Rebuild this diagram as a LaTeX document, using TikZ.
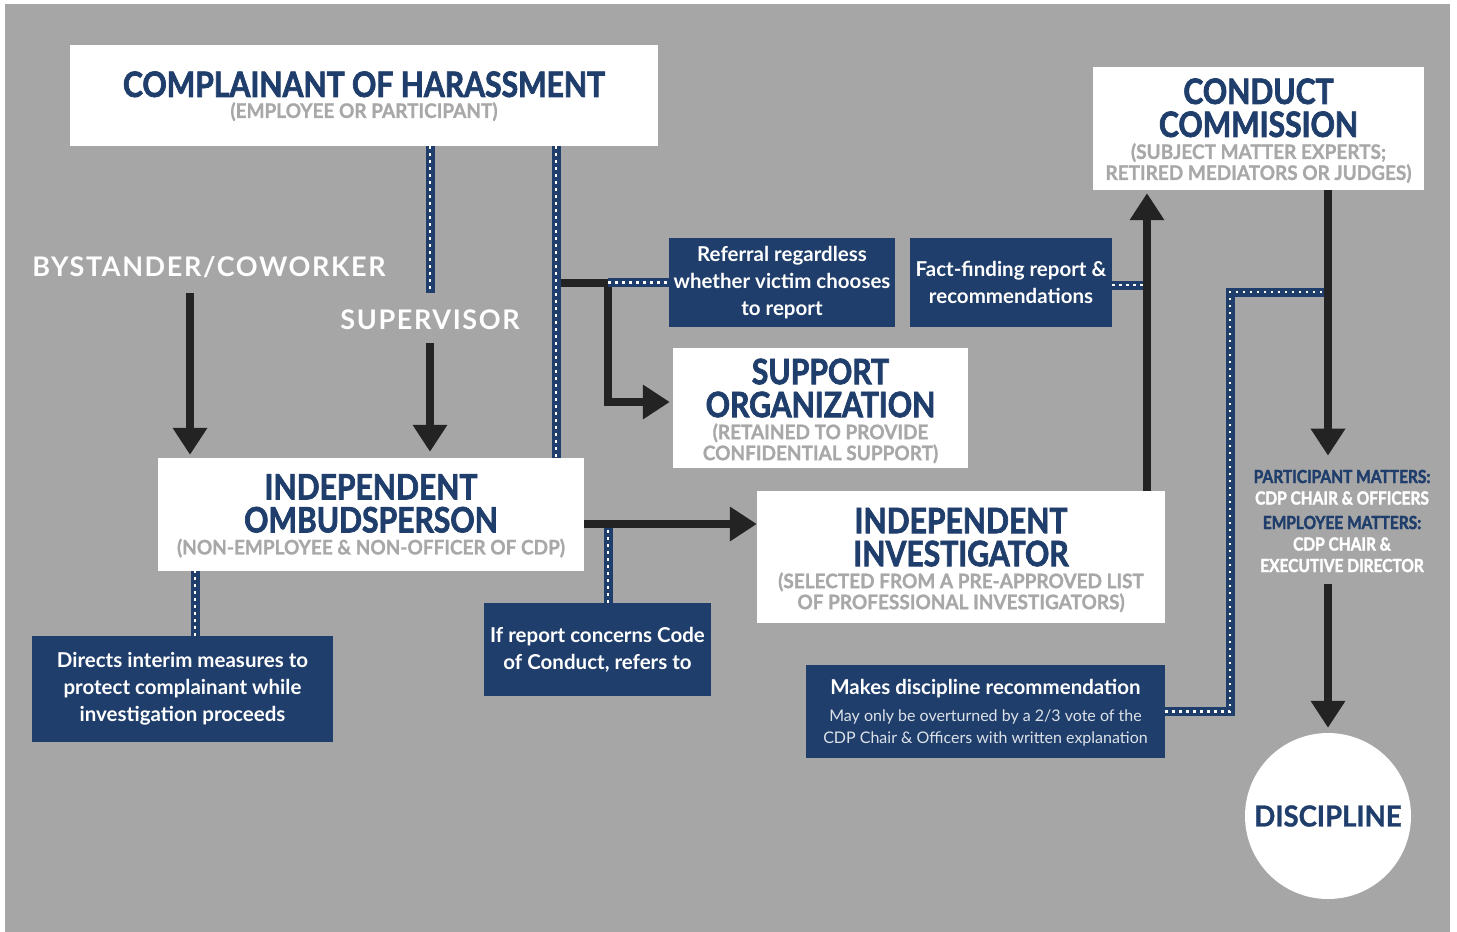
\documentclass[tikz,border=0pt]{standalone}
\usepackage{fontspec}
\setmainfont{Lato}
\newfontfamily\headfont{Lato}[FakeStretch=0.86, BoldFeatures={FakeBold=2}]
\newfontfamily\capsfont{Lato}[FakeStretch=0.95, BoldFeatures={FakeBold=1}]
\newfontfamily\spacedfont{Lato}[LetterSpace=6]
\usetikzlibrary{
        arrows.meta,
        positioning
    }
\definecolor{navy}{HTML}{1F3E6B}
\definecolor{bggray}{HTML}{A6A6A6}
\definecolor{subgray}{HTML}{A8A8A8}
\definecolor{arrowblack}{HTML}{232323}
\newcommand{\capsub}{\capsfont\bfseries\fontsize{20}{21}\selectfont\color{subgray}}

\begin{document}
\begin{tikzpicture}
[x=1pt, y=-1pt,
whitebox/.style={fill=white, inner sep=0pt, align=center, text=navy, font=\headfont\bfseries\fontsize{35}{33}\selectfont},
navybox/.style={fill=navy, inner sep=0pt, align=center, text=white, font=\bfseries\fontsize{20.5}{27}\selectfont},
plainlabel/.style={inner sep=0pt, text=white, font=\spacedfont\bfseries\fontsize{27}{30}\selectfont},
arrow/.style={draw=arrowblack, line width=8pt, -{Triangle[width=33pt,length=27pt]}},
dotline/.style={draw=navy, line width=9pt, postaction={draw=white, line width=2.5pt, dash pattern=on 2.5pt off 4.5pt}},
]
    \useasboundingbox (0,0) rectangle (1457,932);
    \fill[white] (0,0) rectangle (1457,932);
    \fill[bggray] (5,4) rectangle (1450,932);

    % white boxes
    \node (complainant) [whitebox, minimum width=588pt, minimum height=101pt] at (364,95.5) {\rule{0pt}{27pt}COMPLAINANT OF HARASSMENT\\[-12pt]{\capsub (EMPLOYEE OR PARTICIPANT)}};
    \node (ombud) [whitebox, minimum width=426pt, minimum height=113pt] at (371,514.5) {\rule{0pt}{28pt}INDEPENDENT\\OMBUDSPERSON\\[-11pt]{\capsub (NON-EMPLOYEE \& NON-OFFICER OF CDP)}};
    \node (support) [whitebox, minimum width=295pt, minimum height=120pt] at (820.5,408) {\rule{0pt}{31.5pt}SUPPORT\\ORGANIZATION\\[-11pt]{\capsub (RETAINED TO PROVIDE}\\[-12pt]{\capsub CONFIDENTIAL SUPPORT)}};
    \node (investigator) [whitebox, minimum width=408pt, minimum height=132pt] at (961,557) {\rule{0pt}{31.5pt}INDEPENDENT\\INVESTIGATOR\\[-11pt]{\capsub (SELECTED FROM A PRE-APPROVED LIST}\\[-12pt]{\capsub OF PROFESSIONAL INVESTIGATORS)}};
    \node (commission) [whitebox, minimum width=331pt, minimum height=123pt] at (1258.5,128.5) {\rule{0pt}{30pt}CONDUCT\\COMMISSION\\[-11pt]{\capsub (SUBJECT MATTER EXPERTS;}\\[-12pt]{\capsub RETIRED MEDIATORS OR JUDGES)}};
    \node (discipline) [circle, fill=white, minimum size=166pt, inner sep=0pt, text=navy, font=\capsfont\bfseries\fontsize{29}{30}\selectfont] at (1328,816) {DISCIPLINE};

    % navy boxes
    \node (referral) [navybox, minimum width=226pt, minimum height=89pt] at (782,282.5) {Referral regardless\\whether victim chooses\\to report};
    \node (factfind) [navybox, minimum width=202pt, minimum height=89pt] at (1011,282.5) {Fact-finding report \&\\recommendations};
    \node (codebox) [navybox, minimum width=227pt, minimum height=93pt] at (597.5,649.5) {If report concerns Code\\of Conduct, refers to};
    \node (interim) [navybox, minimum width=301pt, minimum height=106pt] at (182.5,689) {Directs interim measures to\\protect complainant while\\investigation proceeds};
    \node (makes) [navybox, minimum width=359pt, minimum height=93pt] at (985.5,711.5) {\rule{0pt}{18pt}Makes discipline recommendation\\{\mdseries\fontsize{16}{22}\selectfont\color{white!85!navy} May only be overturned by a 2/3 vote of the}\\[-5pt]{\mdseries\fontsize{16}{22}\selectfont\color{white!85!navy} CDP Chair \& Officers with written explanation}};

    % free labels
    \node (bystander) [plainlabel] at (209,267) {BYSTANDER/COWORKER};
    \node (supervisor) [plainlabel] at (430,320) {SUPERVISOR};
    \node (matters) [align=center, inner sep=0pt, text=white, font=\headfont\bfseries\fontsize{18}{21.5}\selectfont] at (1342,521) {\textcolor{navy}{PARTICIPANT MATTERS:}\\CDP CHAIR \& OFFICERS\\[3pt]\textcolor{navy}{EMPLOYEE MATTERS:}\\CDP CHAIR \&\\EXECUTIVE DIRECTOR};

    % dotted links
    \coordinate (tee) at ([xshift=192pt]complainant.south |- referral.west);
    \coordinate (elbow) at ([xshift=52pt]tee);
    \coordinate (oi) at ([yshift=-9.5pt]ombud.east);
    \coordinate (upx) at ([xshift=186pt]investigator.north);
    \coordinate (tap) at ([yshift=-102pt]commission.south -| discipline.north);
    \draw[dotline] (complainant.south -| supervisor.north) -- ([yshift=17pt]supervisor.north);
    \draw[dotline] ([xshift=192pt]complainant.south) -- ([xshift=192pt]complainant.south |- ombud.north);
    \draw[dotline] ([xshift=12.5pt]interim.north) -- ([xshift=12.5pt]interim.north |- ombud.south);
    \draw[dotline] ([xshift=10.5pt]codebox.north) -- ([xshift=10.5pt]codebox.north |- oi);
    \draw[dotline] ([yshift=-2.5pt]factfind.east) -- ([yshift=-2.5pt]factfind.east -| upx);
    \draw[dotline] (makes.east) -| ([xshift=-98pt]tap) -- (tap);

    % solid arrows
    \draw[arrow, shorten >=3pt] ([xshift=-19pt,yshift=-15pt]bystander.south) -- ([xshift=-19pt]bystander.south |- ombud.north);
    \draw[arrow, shorten >=6pt] ([yshift=-13pt]supervisor.south) -- (supervisor.south |- ombud.north);
    \draw[arrow, line join=miter, shorten >=3pt] ([xshift=4.5pt]tee) -| ([yshift=6pt]elbow |- support.west) -- ([yshift=6pt]support.west);
    \draw[dotline] (elbow) -- (referral.west);
    \draw[arrow] (oi) -- (oi -| investigator.west);
    \draw[arrow, shorten >=3pt] (upx) -- (upx |- commission.south);
    \draw[arrow] (commission.south -| discipline.north) -- ([yshift=14pt]matters.north -| discipline.north);
    \draw[arrow, shorten >=5pt] ([yshift=-12pt]matters.south -| discipline.north) -- (discipline.north);
\end{tikzpicture}
\end{document}
